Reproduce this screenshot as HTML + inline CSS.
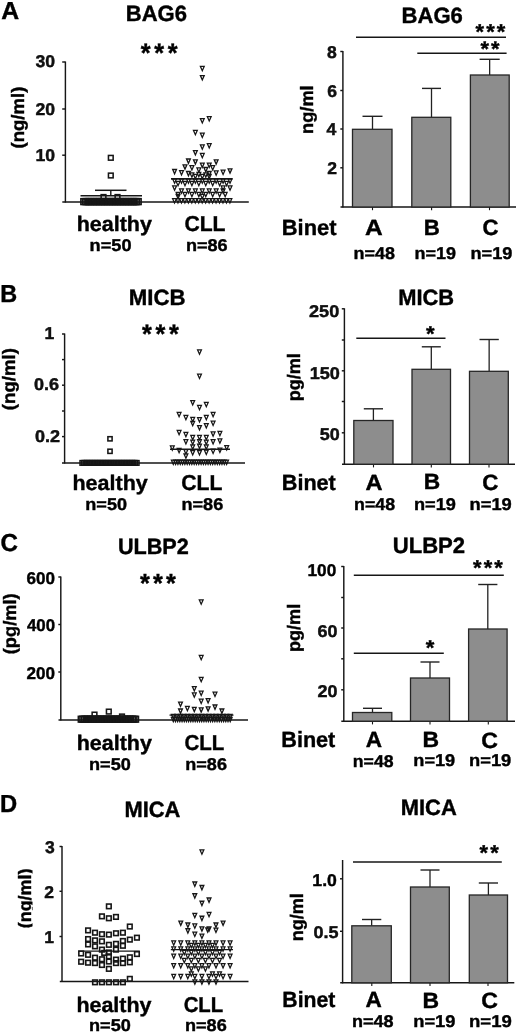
<!DOCTYPE html>
<html><head><meta charset="utf-8"><title>Figure</title>
<style>html,body{margin:0;padding:0;background:#fff}svg{display:block}text{font-family:"Liberation Sans",Arial,Helvetica,sans-serif;font-weight:bold;text-rendering:geometricPrecision;stroke:#000;stroke-width:0.4px}</style>
</head><body>
<svg width="520" height="1033" viewBox="0 0 520 1033">
<rect width="520" height="1033" fill="#fff"/>
<text transform="translate(1.28 18.85) scale(1.0092 1)" font-size="24.55" fill="#000">A</text>
<text transform="translate(125.77 21.25) scale(0.9941 1)" font-size="22.15" fill="#000">BAG6</text>
<text transform="translate(140.67 62.36) scale(0.9442 1)" font-size="26.76" letter-spacing="3.89" fill="#000">***</text>
<text transform="translate(24.25 148.53) rotate(-90) scale(1.0350 1)" font-size="17.95" fill="#000">(ng/ml)</text>
<line x1="65.40" y1="61.50" x2="65.40" y2="202.60" stroke="#161616" stroke-width="1.45"/>
<line x1="62.30" y1="202.00" x2="248.80" y2="202.00" stroke="#161616" stroke-width="1.45"/>
<line x1="62.20" y1="62.00" x2="65.40" y2="62.00" stroke="#161616" stroke-width="1.45"/>
<text transform="translate(35.52 67.35) scale(1.0347 1)" font-size="17.05" fill="#111">30</text>
<line x1="62.20" y1="109.00" x2="65.40" y2="109.00" stroke="#161616" stroke-width="1.45"/>
<text transform="translate(35.53 115.45) scale(1.0345 1)" font-size="17.05" fill="#111">20</text>
<line x1="62.20" y1="155.20" x2="65.40" y2="155.20" stroke="#161616" stroke-width="1.45"/>
<text transform="translate(35.54 161.25) scale(1.0340 1)" font-size="17.05" fill="#111">10</text>
<text transform="translate(76.70 230.85) scale(1.0209 1)" font-size="21.05" fill="#000">healthy</text>
<text transform="translate(184.46 231.05) scale(0.9800 1)" font-size="21.55" fill="#000">CLL</text>
<text transform="translate(89.62 250.85) scale(1.0664 1)" font-size="17.05" fill="#000">n=50</text>
<text transform="translate(185.92 250.85) scale(1.0613 1)" font-size="17.05" fill="#000">n=86</text>
<rect x="80.90" y="198.70" width="5.8" height="5.8" fill="none" stroke="#161616" stroke-width="1.6"/>
<rect x="82.50" y="198.70" width="5.8" height="5.8" fill="none" stroke="#161616" stroke-width="1.6"/>
<rect x="84.10" y="198.70" width="5.8" height="5.8" fill="none" stroke="#161616" stroke-width="1.6"/>
<rect x="85.70" y="198.70" width="5.8" height="5.8" fill="none" stroke="#161616" stroke-width="1.6"/>
<rect x="87.30" y="198.70" width="5.8" height="5.8" fill="none" stroke="#161616" stroke-width="1.6"/>
<rect x="88.90" y="198.70" width="5.8" height="5.8" fill="none" stroke="#161616" stroke-width="1.6"/>
<rect x="90.50" y="198.70" width="5.8" height="5.8" fill="none" stroke="#161616" stroke-width="1.6"/>
<rect x="92.10" y="198.70" width="5.8" height="5.8" fill="none" stroke="#161616" stroke-width="1.6"/>
<rect x="93.70" y="198.70" width="5.8" height="5.8" fill="none" stroke="#161616" stroke-width="1.6"/>
<rect x="95.30" y="198.70" width="5.8" height="5.8" fill="none" stroke="#161616" stroke-width="1.6"/>
<rect x="96.90" y="198.70" width="5.8" height="5.8" fill="none" stroke="#161616" stroke-width="1.6"/>
<rect x="98.50" y="198.70" width="5.8" height="5.8" fill="none" stroke="#161616" stroke-width="1.6"/>
<rect x="100.10" y="198.70" width="5.8" height="5.8" fill="none" stroke="#161616" stroke-width="1.6"/>
<rect x="101.70" y="198.70" width="5.8" height="5.8" fill="none" stroke="#161616" stroke-width="1.6"/>
<rect x="103.30" y="198.70" width="5.8" height="5.8" fill="none" stroke="#161616" stroke-width="1.6"/>
<rect x="104.90" y="198.70" width="5.8" height="5.8" fill="none" stroke="#161616" stroke-width="1.6"/>
<rect x="106.50" y="198.70" width="5.8" height="5.8" fill="none" stroke="#161616" stroke-width="1.6"/>
<rect x="108.10" y="198.70" width="5.8" height="5.8" fill="none" stroke="#161616" stroke-width="1.6"/>
<rect x="109.70" y="198.70" width="5.8" height="5.8" fill="none" stroke="#161616" stroke-width="1.6"/>
<rect x="111.30" y="198.70" width="5.8" height="5.8" fill="none" stroke="#161616" stroke-width="1.6"/>
<rect x="112.90" y="198.70" width="5.8" height="5.8" fill="none" stroke="#161616" stroke-width="1.6"/>
<rect x="114.50" y="198.70" width="5.8" height="5.8" fill="none" stroke="#161616" stroke-width="1.6"/>
<rect x="116.10" y="198.70" width="5.8" height="5.8" fill="none" stroke="#161616" stroke-width="1.6"/>
<rect x="117.70" y="198.70" width="5.8" height="5.8" fill="none" stroke="#161616" stroke-width="1.6"/>
<rect x="119.30" y="198.70" width="5.8" height="5.8" fill="none" stroke="#161616" stroke-width="1.6"/>
<rect x="120.90" y="198.70" width="5.8" height="5.8" fill="none" stroke="#161616" stroke-width="1.6"/>
<rect x="122.50" y="198.70" width="5.8" height="5.8" fill="none" stroke="#161616" stroke-width="1.6"/>
<rect x="124.10" y="198.70" width="5.8" height="5.8" fill="none" stroke="#161616" stroke-width="1.6"/>
<rect x="125.70" y="198.70" width="5.8" height="5.8" fill="none" stroke="#161616" stroke-width="1.6"/>
<rect x="127.30" y="198.70" width="5.8" height="5.8" fill="none" stroke="#161616" stroke-width="1.6"/>
<rect x="128.90" y="198.70" width="5.8" height="5.8" fill="none" stroke="#161616" stroke-width="1.6"/>
<rect x="130.50" y="198.70" width="5.8" height="5.8" fill="none" stroke="#161616" stroke-width="1.6"/>
<rect x="132.10" y="198.70" width="5.8" height="5.8" fill="none" stroke="#161616" stroke-width="1.6"/>
<rect x="133.70" y="198.70" width="5.8" height="5.8" fill="none" stroke="#161616" stroke-width="1.6"/>
<rect x="135.30" y="198.70" width="5.8" height="5.8" fill="none" stroke="#161616" stroke-width="1.6"/>
<rect x="108.45" y="155.45" width="4.7" height="4.7" fill="none" stroke="#161616" stroke-width="1.55"/>
<rect x="108.45" y="173.15" width="4.7" height="4.7" fill="none" stroke="#161616" stroke-width="1.55"/>
<rect x="101.15" y="194.65" width="4.7" height="4.7" fill="none" stroke="#161616" stroke-width="1.55"/>
<rect x="115.15" y="194.65" width="4.7" height="4.7" fill="none" stroke="#161616" stroke-width="1.55"/>
<line x1="95.00" y1="190.30" x2="126.50" y2="190.30" stroke="#161616" stroke-width="1.5"/>
<line x1="110.80" y1="190.30" x2="110.80" y2="196.00" stroke="#161616" stroke-width="1.4"/>
<line x1="80.50" y1="195.70" x2="142.00" y2="195.70" stroke="#161616" stroke-width="1.5"/>
<path d="M200.40 66.40H204.20L202.30 70.70Z" fill="none" stroke="#161616" stroke-width="1.3"/>
<path d="M200.40 75.60H204.20L202.30 79.90Z" fill="none" stroke="#161616" stroke-width="1.3"/>
<path d="M200.40 118.65H204.20L202.30 122.95Z" fill="none" stroke="#161616" stroke-width="1.3"/>
<path d="M207.33 116.65H211.13L209.23 120.95Z" fill="none" stroke="#161616" stroke-width="1.3"/>
<path d="M193.47 130.40H197.27L195.37 134.70Z" fill="none" stroke="#161616" stroke-width="1.3"/>
<path d="M200.40 133.15H204.20L202.30 137.45Z" fill="none" stroke="#161616" stroke-width="1.3"/>
<path d="M200.40 144.90H204.20L202.30 149.20Z" fill="none" stroke="#161616" stroke-width="1.3"/>
<path d="M207.33 143.65H211.13L209.23 147.95Z" fill="none" stroke="#161616" stroke-width="1.3"/>
<path d="M193.47 150.60H197.27L195.37 154.90Z" fill="none" stroke="#161616" stroke-width="1.3"/>
<path d="M200.40 153.40H204.20L202.30 157.70Z" fill="none" stroke="#161616" stroke-width="1.3"/>
<path d="M186.54 159.00H190.34L188.44 163.30Z" fill="none" stroke="#161616" stroke-width="1.3"/>
<path d="M193.47 159.80H197.27L195.37 164.10Z" fill="none" stroke="#161616" stroke-width="1.3"/>
<path d="M214.26 159.80H218.06L216.16 164.10Z" fill="none" stroke="#161616" stroke-width="1.3"/>
<path d="M200.40 163.10H204.20L202.30 167.40Z" fill="none" stroke="#161616" stroke-width="1.3"/>
<path d="M207.33 163.10H211.13L209.23 167.40Z" fill="none" stroke="#161616" stroke-width="1.3"/>
<path d="M183.08 164.80H186.88L184.98 169.10Z" fill="none" stroke="#161616" stroke-width="1.3"/>
<path d="M190.00 165.70H193.81L191.91 170.00Z" fill="none" stroke="#161616" stroke-width="1.3"/>
<path d="M210.80 165.70H214.60L212.70 170.00Z" fill="none" stroke="#161616" stroke-width="1.3"/>
<path d="M196.94 167.90H200.74L198.84 172.20Z" fill="none" stroke="#161616" stroke-width="1.3"/>
<path d="M203.87 167.50H207.67L205.77 171.80Z" fill="none" stroke="#161616" stroke-width="1.3"/>
<path d="M172.68 169.50H176.48L174.58 173.80Z" fill="none" stroke="#161616" stroke-width="1.3"/>
<path d="M179.61 170.60H183.41L181.51 174.90Z" fill="none" stroke="#161616" stroke-width="1.3"/>
<path d="M228.12 168.80H231.92L230.02 173.10Z" fill="none" stroke="#161616" stroke-width="1.3"/>
<path d="M221.19 170.20H224.99L223.09 174.50Z" fill="none" stroke="#161616" stroke-width="1.3"/>
<path d="M186.54 171.50H190.34L188.44 175.80Z" fill="none" stroke="#161616" stroke-width="1.3"/>
<path d="M214.26 170.90H218.06L216.16 175.20Z" fill="none" stroke="#161616" stroke-width="1.3"/>
<path d="M207.33 171.50H211.13L209.23 175.80Z" fill="none" stroke="#161616" stroke-width="1.3"/>
<path d="M190.00 172.90H193.81L191.91 177.20Z" fill="none" stroke="#161616" stroke-width="1.3"/>
<path d="M196.94 172.40H200.74L198.84 176.70Z" fill="none" stroke="#161616" stroke-width="1.3"/>
<path d="M203.87 172.90H207.67L205.77 177.20Z" fill="none" stroke="#161616" stroke-width="1.3"/>
<path d="M193.47 174.40H197.27L195.37 178.70Z" fill="none" stroke="#161616" stroke-width="1.3"/>
<path d="M200.40 174.40H204.20L202.30 178.70Z" fill="none" stroke="#161616" stroke-width="1.3"/>
<path d="M207.33 174.40H211.13L209.23 178.70Z" fill="none" stroke="#161616" stroke-width="1.3"/>
<path d="M172.68 178.90H176.48L174.58 183.20Z" fill="none" stroke="#161616" stroke-width="1.3"/>
<path d="M179.61 178.90H183.41L181.51 183.20Z" fill="none" stroke="#161616" stroke-width="1.3"/>
<path d="M186.54 178.90H190.34L188.44 183.20Z" fill="none" stroke="#161616" stroke-width="1.3"/>
<path d="M193.47 178.90H197.27L195.37 183.20Z" fill="none" stroke="#161616" stroke-width="1.3"/>
<path d="M200.40 178.90H204.20L202.30 183.20Z" fill="none" stroke="#161616" stroke-width="1.3"/>
<path d="M207.33 178.90H211.13L209.23 183.20Z" fill="none" stroke="#161616" stroke-width="1.3"/>
<path d="M214.26 178.90H218.06L216.16 183.20Z" fill="none" stroke="#161616" stroke-width="1.3"/>
<path d="M221.19 178.90H224.99L223.09 183.20Z" fill="none" stroke="#161616" stroke-width="1.3"/>
<path d="M228.12 178.90H231.92L230.02 183.20Z" fill="none" stroke="#161616" stroke-width="1.3"/>
<path d="M176.15 181.40H179.95L178.05 185.70Z" fill="none" stroke="#161616" stroke-width="1.3"/>
<path d="M183.08 181.40H186.88L184.98 185.70Z" fill="none" stroke="#161616" stroke-width="1.3"/>
<path d="M190.00 181.40H193.81L191.91 185.70Z" fill="none" stroke="#161616" stroke-width="1.3"/>
<path d="M196.94 181.40H200.74L198.84 185.70Z" fill="none" stroke="#161616" stroke-width="1.3"/>
<path d="M203.87 181.40H207.67L205.77 185.70Z" fill="none" stroke="#161616" stroke-width="1.3"/>
<path d="M210.80 181.40H214.60L212.70 185.70Z" fill="none" stroke="#161616" stroke-width="1.3"/>
<path d="M217.72 181.40H221.53L219.62 185.70Z" fill="none" stroke="#161616" stroke-width="1.3"/>
<path d="M224.66 181.40H228.46L226.56 185.70Z" fill="none" stroke="#161616" stroke-width="1.3"/>
<path d="M172.68 185.90H176.48L174.58 190.20Z" fill="none" stroke="#161616" stroke-width="1.3"/>
<path d="M228.12 185.90H231.92L230.02 190.20Z" fill="none" stroke="#161616" stroke-width="1.3"/>
<path d="M221.19 185.90H224.99L223.09 190.20Z" fill="none" stroke="#161616" stroke-width="1.3"/>
<path d="M179.61 188.90H183.41L181.51 193.20Z" fill="none" stroke="#161616" stroke-width="1.3"/>
<path d="M186.54 188.90H190.34L188.44 193.20Z" fill="none" stroke="#161616" stroke-width="1.3"/>
<path d="M193.47 188.90H197.27L195.37 193.20Z" fill="none" stroke="#161616" stroke-width="1.3"/>
<path d="M200.40 188.90H204.20L202.30 193.20Z" fill="none" stroke="#161616" stroke-width="1.3"/>
<path d="M207.33 188.90H211.13L209.23 193.20Z" fill="none" stroke="#161616" stroke-width="1.3"/>
<path d="M214.26 188.90H218.06L216.16 193.20Z" fill="none" stroke="#161616" stroke-width="1.3"/>
<path d="M221.19 188.90H224.99L223.09 193.20Z" fill="none" stroke="#161616" stroke-width="1.3"/>
<path d="M176.15 192.40H179.95L178.05 196.70Z" fill="none" stroke="#161616" stroke-width="1.3"/>
<path d="M183.08 192.40H186.88L184.98 196.70Z" fill="none" stroke="#161616" stroke-width="1.3"/>
<path d="M190.00 192.40H193.81L191.91 196.70Z" fill="none" stroke="#161616" stroke-width="1.3"/>
<path d="M196.94 192.40H200.74L198.84 196.70Z" fill="none" stroke="#161616" stroke-width="1.3"/>
<path d="M203.87 192.40H207.67L205.77 196.70Z" fill="none" stroke="#161616" stroke-width="1.3"/>
<path d="M210.80 192.40H214.60L212.70 196.70Z" fill="none" stroke="#161616" stroke-width="1.3"/>
<path d="M217.72 192.40H221.53L219.62 196.70Z" fill="none" stroke="#161616" stroke-width="1.3"/>
<path d="M223.27 192.40H227.07L225.17 196.70Z" fill="none" stroke="#161616" stroke-width="1.3"/>
<path d="M176.15 194.40H179.95L178.05 198.70Z" fill="none" stroke="#161616" stroke-width="1.3"/>
<path d="M200.40 194.40H204.20L202.30 198.70Z" fill="none" stroke="#161616" stroke-width="1.3"/>
<path d="M172.60 198.70H176.40L174.50 203.00Z" fill="none" stroke="#161616" stroke-width="1.3"/>
<path d="M176.06 198.70H179.86L177.96 203.00Z" fill="none" stroke="#161616" stroke-width="1.3"/>
<path d="M179.53 198.70H183.33L181.43 203.00Z" fill="none" stroke="#161616" stroke-width="1.3"/>
<path d="M182.99 198.70H186.79L184.89 203.00Z" fill="none" stroke="#161616" stroke-width="1.3"/>
<path d="M186.45 198.70H190.25L188.35 203.00Z" fill="none" stroke="#161616" stroke-width="1.3"/>
<path d="M189.91 198.70H193.71L191.81 203.00Z" fill="none" stroke="#161616" stroke-width="1.3"/>
<path d="M193.38 198.70H197.18L195.28 203.00Z" fill="none" stroke="#161616" stroke-width="1.3"/>
<path d="M196.84 198.70H200.64L198.74 203.00Z" fill="none" stroke="#161616" stroke-width="1.3"/>
<path d="M200.30 198.70H204.10L202.20 203.00Z" fill="none" stroke="#161616" stroke-width="1.3"/>
<path d="M203.76 198.70H207.56L205.66 203.00Z" fill="none" stroke="#161616" stroke-width="1.3"/>
<path d="M207.22 198.70H211.03L209.12 203.00Z" fill="none" stroke="#161616" stroke-width="1.3"/>
<path d="M210.69 198.70H214.49L212.59 203.00Z" fill="none" stroke="#161616" stroke-width="1.3"/>
<path d="M214.15 198.70H217.95L216.05 203.00Z" fill="none" stroke="#161616" stroke-width="1.3"/>
<path d="M217.61 198.70H221.41L219.51 203.00Z" fill="none" stroke="#161616" stroke-width="1.3"/>
<path d="M221.08 198.70H224.88L222.98 203.00Z" fill="none" stroke="#161616" stroke-width="1.3"/>
<path d="M224.54 198.70H228.34L226.44 203.00Z" fill="none" stroke="#161616" stroke-width="1.3"/>
<path d="M228.00 198.70H231.80L229.90 203.00Z" fill="none" stroke="#161616" stroke-width="1.3"/>
<line x1="171.00" y1="178.80" x2="232.50" y2="178.80" stroke="#161616" stroke-width="1.8"/>
<text transform="translate(401.57 22.55) scale(0.9958 1)" font-size="22.15" fill="#000">BAG6</text>
<text transform="translate(475.59 39.43) scale(1.0230 1)" font-size="21.35" letter-spacing="2.06" fill="#000">***</text>
<line x1="356.00" y1="37.20" x2="506.00" y2="37.20" stroke="#161616" stroke-width="1.4"/>
<text transform="translate(480.39 55.75) scale(1.0361 1)" font-size="21.08" letter-spacing="2.13" fill="#000">**</text>
<line x1="417.30" y1="53.20" x2="506.60" y2="53.20" stroke="#161616" stroke-width="1.4"/>
<line x1="342.90" y1="51.00" x2="342.90" y2="207.60" stroke="#161616" stroke-width="1.45"/>
<line x1="340.50" y1="207.00" x2="516.00" y2="207.00" stroke="#161616" stroke-width="1.45"/>
<line x1="340.30" y1="51.50" x2="342.90" y2="51.50" stroke="#161616" stroke-width="1.45"/>
<text transform="translate(327.08 58.35) scale(1.0303 1)" font-size="17.05" fill="#111">8</text>
<line x1="340.30" y1="90.50" x2="342.90" y2="90.50" stroke="#161616" stroke-width="1.45"/>
<text transform="translate(327.17 96.55) scale(1.0293 1)" font-size="17.05" fill="#111">6</text>
<line x1="340.30" y1="129.00" x2="342.90" y2="129.00" stroke="#161616" stroke-width="1.45"/>
<text transform="translate(326.60 134.85) scale(1.0339 1)" font-size="17.05" fill="#111">4</text>
<line x1="340.30" y1="167.80" x2="342.90" y2="167.80" stroke="#161616" stroke-width="1.45"/>
<text transform="translate(327.27 173.65) scale(1.0288 1)" font-size="17.05" fill="#111">2</text>
<line x1="372.50" y1="207.00" x2="372.50" y2="210.20" stroke="#161616" stroke-width="1.1"/>
<line x1="431.60" y1="207.00" x2="431.60" y2="210.20" stroke="#161616" stroke-width="1.1"/>
<line x1="489.50" y1="207.00" x2="489.50" y2="210.20" stroke="#161616" stroke-width="1.1"/>
<text transform="translate(312.95 133.99) rotate(-90) scale(1.0175 1)" font-size="17.95" fill="#000">ng/ml</text>
<line x1="372.50" y1="116.30" x2="372.50" y2="129.30" stroke="#222" stroke-width="1.3"/>
<line x1="362.50" y1="116.30" x2="382.50" y2="116.30" stroke="#222" stroke-width="1.4"/>
<rect x="352.50" y="129.30" width="39.50" height="77.70" fill="#8d8d8d" stroke="#262626" stroke-width="1.3"/>
<line x1="431.50" y1="88.40" x2="431.50" y2="117.30" stroke="#222" stroke-width="1.3"/>
<line x1="422.00" y1="88.40" x2="441.00" y2="88.40" stroke="#222" stroke-width="1.4"/>
<rect x="411.80" y="117.30" width="39.00" height="89.70" fill="#8d8d8d" stroke="#262626" stroke-width="1.3"/>
<line x1="489.65" y1="59.30" x2="489.65" y2="75.00" stroke="#222" stroke-width="1.3"/>
<line x1="479.60" y1="59.30" x2="499.70" y2="59.30" stroke="#222" stroke-width="1.4"/>
<rect x="470.40" y="75.00" width="38.80" height="132.00" fill="#8d8d8d" stroke="#262626" stroke-width="1.3"/>
<text transform="translate(281.78 235.15) scale(0.9914 1)" font-size="22.05" fill="#000">Binet</text>
<text transform="translate(365.09 235.15) scale(1.1101 1)" font-size="22.05" fill="#000">A</text>
<text transform="translate(423.75 235.15) scale(1.0111 1)" font-size="22.05" fill="#000">B</text>
<text transform="translate(482.61 235.35) scale(1.0040 1)" font-size="22.05" fill="#000">C</text>
<text transform="translate(353.54 259.05) scale(1.0509 1)" font-size="17.05" fill="#000">n=48</text>
<text transform="translate(414.53 259.05) scale(1.0533 1)" font-size="17.05" fill="#000">n=19</text>
<text transform="translate(470.52 259.05) scale(1.0666 1)" font-size="17.05" fill="#000">n=19</text>
<text transform="translate(0.18 301.65) scale(0.9549 1)" font-size="24.55" fill="#000">B</text>
<text transform="translate(128.76 304.85) scale(1.0026 1)" font-size="22.15" fill="#000">MICB</text>
<text transform="translate(142.07 343.46) scale(0.9442 1)" font-size="26.76" letter-spacing="3.89" fill="#000">***</text>
<text transform="translate(14.95 410.13) rotate(-90) scale(1.0367 1)" font-size="17.95" fill="#000">(ng/ml)</text>
<line x1="64.60" y1="333.50" x2="64.60" y2="463.60" stroke="#161616" stroke-width="1.45"/>
<line x1="62.00" y1="463.00" x2="245.00" y2="463.00" stroke="#161616" stroke-width="1.45"/>
<line x1="62.00" y1="334.00" x2="64.60" y2="334.00" stroke="#161616" stroke-width="1.45"/>
<line x1="62.00" y1="359.60" x2="64.60" y2="359.60" stroke="#161616" stroke-width="1.45"/>
<line x1="62.00" y1="385.20" x2="64.60" y2="385.20" stroke="#161616" stroke-width="1.45"/>
<line x1="62.00" y1="411.00" x2="64.60" y2="411.00" stroke="#161616" stroke-width="1.45"/>
<line x1="62.00" y1="436.60" x2="64.60" y2="436.60" stroke="#161616" stroke-width="1.45"/>
<text transform="translate(44.41 339.45) scale(1.0278 1)" font-size="17.05" fill="#111">1</text>
<text transform="translate(34.01 390.05) scale(1.0599 1)" font-size="17.05" fill="#111">0.6</text>
<text transform="translate(34.91 442.25) scale(1.0598 1)" font-size="17.05" fill="#111">0.2</text>
<text transform="translate(72.50 490.35) scale(1.0209 1)" font-size="21.05" fill="#000">healthy</text>
<text transform="translate(181.36 490.35) scale(0.9800 1)" font-size="21.55" fill="#000">CLL</text>
<text transform="translate(85.32 510.35) scale(1.0611 1)" font-size="17.05" fill="#000">n=50</text>
<text transform="translate(181.52 510.35) scale(1.0613 1)" font-size="17.05" fill="#000">n=86</text>
<rect x="80.00" y="460.60" width="4.6" height="4.6" fill="none" stroke="#161616" stroke-width="1.5"/>
<rect x="81.60" y="460.60" width="4.6" height="4.6" fill="none" stroke="#161616" stroke-width="1.5"/>
<rect x="83.20" y="460.60" width="4.6" height="4.6" fill="none" stroke="#161616" stroke-width="1.5"/>
<rect x="84.80" y="460.60" width="4.6" height="4.6" fill="none" stroke="#161616" stroke-width="1.5"/>
<rect x="86.40" y="460.60" width="4.6" height="4.6" fill="none" stroke="#161616" stroke-width="1.5"/>
<rect x="88.00" y="460.60" width="4.6" height="4.6" fill="none" stroke="#161616" stroke-width="1.5"/>
<rect x="89.60" y="460.60" width="4.6" height="4.6" fill="none" stroke="#161616" stroke-width="1.5"/>
<rect x="91.20" y="460.60" width="4.6" height="4.6" fill="none" stroke="#161616" stroke-width="1.5"/>
<rect x="92.80" y="460.60" width="4.6" height="4.6" fill="none" stroke="#161616" stroke-width="1.5"/>
<rect x="94.40" y="460.60" width="4.6" height="4.6" fill="none" stroke="#161616" stroke-width="1.5"/>
<rect x="96.00" y="460.60" width="4.6" height="4.6" fill="none" stroke="#161616" stroke-width="1.5"/>
<rect x="97.60" y="460.60" width="4.6" height="4.6" fill="none" stroke="#161616" stroke-width="1.5"/>
<rect x="99.20" y="460.60" width="4.6" height="4.6" fill="none" stroke="#161616" stroke-width="1.5"/>
<rect x="100.80" y="460.60" width="4.6" height="4.6" fill="none" stroke="#161616" stroke-width="1.5"/>
<rect x="102.40" y="460.60" width="4.6" height="4.6" fill="none" stroke="#161616" stroke-width="1.5"/>
<rect x="104.00" y="460.60" width="4.6" height="4.6" fill="none" stroke="#161616" stroke-width="1.5"/>
<rect x="105.60" y="460.60" width="4.6" height="4.6" fill="none" stroke="#161616" stroke-width="1.5"/>
<rect x="107.20" y="460.60" width="4.6" height="4.6" fill="none" stroke="#161616" stroke-width="1.5"/>
<rect x="108.80" y="460.60" width="4.6" height="4.6" fill="none" stroke="#161616" stroke-width="1.5"/>
<rect x="110.40" y="460.60" width="4.6" height="4.6" fill="none" stroke="#161616" stroke-width="1.5"/>
<rect x="112.00" y="460.60" width="4.6" height="4.6" fill="none" stroke="#161616" stroke-width="1.5"/>
<rect x="113.60" y="460.60" width="4.6" height="4.6" fill="none" stroke="#161616" stroke-width="1.5"/>
<rect x="115.20" y="460.60" width="4.6" height="4.6" fill="none" stroke="#161616" stroke-width="1.5"/>
<rect x="116.80" y="460.60" width="4.6" height="4.6" fill="none" stroke="#161616" stroke-width="1.5"/>
<rect x="118.40" y="460.60" width="4.6" height="4.6" fill="none" stroke="#161616" stroke-width="1.5"/>
<rect x="120.00" y="460.60" width="4.6" height="4.6" fill="none" stroke="#161616" stroke-width="1.5"/>
<rect x="121.60" y="460.60" width="4.6" height="4.6" fill="none" stroke="#161616" stroke-width="1.5"/>
<rect x="123.20" y="460.60" width="4.6" height="4.6" fill="none" stroke="#161616" stroke-width="1.5"/>
<rect x="124.80" y="460.60" width="4.6" height="4.6" fill="none" stroke="#161616" stroke-width="1.5"/>
<rect x="126.40" y="460.60" width="4.6" height="4.6" fill="none" stroke="#161616" stroke-width="1.5"/>
<rect x="128.00" y="460.60" width="4.6" height="4.6" fill="none" stroke="#161616" stroke-width="1.5"/>
<rect x="129.60" y="460.60" width="4.6" height="4.6" fill="none" stroke="#161616" stroke-width="1.5"/>
<rect x="131.20" y="460.60" width="4.6" height="4.6" fill="none" stroke="#161616" stroke-width="1.5"/>
<rect x="132.80" y="460.60" width="4.6" height="4.6" fill="none" stroke="#161616" stroke-width="1.5"/>
<rect x="134.40" y="460.60" width="4.6" height="4.6" fill="none" stroke="#161616" stroke-width="1.5"/>
<rect x="107.90" y="436.70" width="4.2" height="4.2" fill="none" stroke="#161616" stroke-width="1.55"/>
<rect x="107.90" y="449.20" width="4.2" height="4.2" fill="none" stroke="#161616" stroke-width="1.55"/>
<path d="M197.60 349.90H201.40L199.50 354.20Z" fill="none" stroke="#161616" stroke-width="1.3"/>
<path d="M197.60 374.20H201.40L199.50 378.50Z" fill="none" stroke="#161616" stroke-width="1.3"/>
<path d="M190.80 400.70H194.60L192.70 405.00Z" fill="none" stroke="#161616" stroke-width="1.3"/>
<path d="M197.60 405.40H201.40L199.50 409.70Z" fill="none" stroke="#161616" stroke-width="1.3"/>
<path d="M204.40 402.40H208.20L206.30 406.70Z" fill="none" stroke="#161616" stroke-width="1.3"/>
<path d="M177.20 412.40H181.00L179.10 416.70Z" fill="none" stroke="#161616" stroke-width="1.3"/>
<path d="M211.20 412.40H215.00L213.10 416.70Z" fill="none" stroke="#161616" stroke-width="1.3"/>
<path d="M184.00 415.40H187.80L185.90 419.70Z" fill="none" stroke="#161616" stroke-width="1.3"/>
<path d="M204.40 415.40H208.20L206.30 419.70Z" fill="none" stroke="#161616" stroke-width="1.3"/>
<path d="M190.80 417.40H194.60L192.70 421.70Z" fill="none" stroke="#161616" stroke-width="1.3"/>
<path d="M197.60 417.70H201.40L199.50 422.00Z" fill="none" stroke="#161616" stroke-width="1.3"/>
<path d="M190.80 421.40H194.60L192.70 425.70Z" fill="none" stroke="#161616" stroke-width="1.3"/>
<path d="M211.20 421.20H215.00L213.10 425.50Z" fill="none" stroke="#161616" stroke-width="1.3"/>
<path d="M204.40 423.70H208.20L206.30 428.00Z" fill="none" stroke="#161616" stroke-width="1.3"/>
<path d="M197.60 425.60H201.40L199.50 429.90Z" fill="none" stroke="#161616" stroke-width="1.3"/>
<path d="M177.20 430.40H181.00L179.10 434.70Z" fill="none" stroke="#161616" stroke-width="1.3"/>
<path d="M184.00 432.40H187.80L185.90 436.70Z" fill="none" stroke="#161616" stroke-width="1.3"/>
<path d="M211.20 431.90H215.00L213.10 436.20Z" fill="none" stroke="#161616" stroke-width="1.3"/>
<path d="M218.00 431.40H221.80L219.90 435.70Z" fill="none" stroke="#161616" stroke-width="1.3"/>
<path d="M190.80 435.40H194.60L192.70 439.70Z" fill="none" stroke="#161616" stroke-width="1.3"/>
<path d="M197.60 435.40H201.40L199.50 439.70Z" fill="none" stroke="#161616" stroke-width="1.3"/>
<path d="M204.40 435.40H208.20L206.30 439.70Z" fill="none" stroke="#161616" stroke-width="1.3"/>
<path d="M184.00 439.70H187.80L185.90 444.00Z" fill="none" stroke="#161616" stroke-width="1.3"/>
<path d="M190.80 440.20H194.60L192.70 444.50Z" fill="none" stroke="#161616" stroke-width="1.3"/>
<path d="M197.60 439.70H201.40L199.50 444.00Z" fill="none" stroke="#161616" stroke-width="1.3"/>
<path d="M204.40 440.20H208.20L206.30 444.50Z" fill="none" stroke="#161616" stroke-width="1.3"/>
<path d="M211.20 439.70H215.00L213.10 444.00Z" fill="none" stroke="#161616" stroke-width="1.3"/>
<path d="M218.00 438.90H221.80L219.90 443.20Z" fill="none" stroke="#161616" stroke-width="1.3"/>
<path d="M170.40 445.90H174.20L172.30 450.20Z" fill="none" stroke="#161616" stroke-width="1.3"/>
<path d="M224.80 445.70H228.60L226.70 450.00Z" fill="none" stroke="#161616" stroke-width="1.3"/>
<path d="M177.20 448.40H181.00L179.10 452.70Z" fill="none" stroke="#161616" stroke-width="1.3"/>
<path d="M184.00 449.70H187.80L185.90 454.00Z" fill="none" stroke="#161616" stroke-width="1.3"/>
<path d="M190.80 450.70H194.60L192.70 455.00Z" fill="none" stroke="#161616" stroke-width="1.3"/>
<path d="M197.60 450.70H201.40L199.50 455.00Z" fill="none" stroke="#161616" stroke-width="1.3"/>
<path d="M204.40 450.20H208.20L206.30 454.50Z" fill="none" stroke="#161616" stroke-width="1.3"/>
<path d="M211.20 449.20H215.00L213.10 453.50Z" fill="none" stroke="#161616" stroke-width="1.3"/>
<path d="M218.00 448.20H221.80L219.90 452.50Z" fill="none" stroke="#161616" stroke-width="1.3"/>
<path d="M190.80 444.90H194.60L192.70 449.20Z" fill="none" stroke="#161616" stroke-width="1.3"/>
<path d="M197.60 444.20H201.40L199.50 448.50Z" fill="none" stroke="#161616" stroke-width="1.3"/>
<path d="M204.40 444.90H208.20L206.30 449.20Z" fill="none" stroke="#161616" stroke-width="1.3"/>
<path d="M184.00 453.90H187.80L185.90 458.20Z" fill="none" stroke="#161616" stroke-width="1.3"/>
<path d="M171.40 460.10H175.20L173.30 464.40Z" fill="none" stroke="#161616" stroke-width="1.3"/>
<path d="M173.72 460.10H177.52L175.62 464.40Z" fill="none" stroke="#161616" stroke-width="1.3"/>
<path d="M176.03 460.10H179.83L177.93 464.40Z" fill="none" stroke="#161616" stroke-width="1.3"/>
<path d="M178.35 460.10H182.15L180.25 464.40Z" fill="none" stroke="#161616" stroke-width="1.3"/>
<path d="M180.67 460.10H184.47L182.57 464.40Z" fill="none" stroke="#161616" stroke-width="1.3"/>
<path d="M182.99 460.10H186.79L184.89 464.40Z" fill="none" stroke="#161616" stroke-width="1.3"/>
<path d="M185.30 460.10H189.10L187.20 464.40Z" fill="none" stroke="#161616" stroke-width="1.3"/>
<path d="M187.62 460.10H191.42L189.52 464.40Z" fill="none" stroke="#161616" stroke-width="1.3"/>
<path d="M189.94 460.10H193.74L191.84 464.40Z" fill="none" stroke="#161616" stroke-width="1.3"/>
<path d="M192.26 460.10H196.06L194.16 464.40Z" fill="none" stroke="#161616" stroke-width="1.3"/>
<path d="M194.57 460.10H198.37L196.47 464.40Z" fill="none" stroke="#161616" stroke-width="1.3"/>
<path d="M196.89 460.10H200.69L198.79 464.40Z" fill="none" stroke="#161616" stroke-width="1.3"/>
<path d="M199.21 460.10H203.01L201.11 464.40Z" fill="none" stroke="#161616" stroke-width="1.3"/>
<path d="M201.53 460.10H205.33L203.43 464.40Z" fill="none" stroke="#161616" stroke-width="1.3"/>
<path d="M203.84 460.10H207.64L205.74 464.40Z" fill="none" stroke="#161616" stroke-width="1.3"/>
<path d="M206.16 460.10H209.96L208.06 464.40Z" fill="none" stroke="#161616" stroke-width="1.3"/>
<path d="M208.48 460.10H212.28L210.38 464.40Z" fill="none" stroke="#161616" stroke-width="1.3"/>
<path d="M210.80 460.10H214.60L212.70 464.40Z" fill="none" stroke="#161616" stroke-width="1.3"/>
<path d="M213.11 460.10H216.91L215.01 464.40Z" fill="none" stroke="#161616" stroke-width="1.3"/>
<path d="M215.43 460.10H219.23L217.33 464.40Z" fill="none" stroke="#161616" stroke-width="1.3"/>
<path d="M217.75 460.10H221.55L219.65 464.40Z" fill="none" stroke="#161616" stroke-width="1.3"/>
<path d="M220.07 460.10H223.87L221.97 464.40Z" fill="none" stroke="#161616" stroke-width="1.3"/>
<path d="M222.38 460.10H226.18L224.28 464.40Z" fill="none" stroke="#161616" stroke-width="1.3"/>
<path d="M224.70 460.10H228.50L226.60 464.40Z" fill="none" stroke="#161616" stroke-width="1.3"/>
<line x1="170.00" y1="449.30" x2="230.00" y2="449.30" stroke="#161616" stroke-width="1.4"/>
<text transform="translate(398.28 304.65) scale(0.9879 1)" font-size="22.15" fill="#000">MICB</text>
<text transform="translate(426.09 340.52) scale(1.0224 1)" font-size="21.62" letter-spacing="1.96" fill="#000">*</text>
<line x1="356.30" y1="338.30" x2="445.50" y2="338.30" stroke="#161616" stroke-width="1.45"/>
<line x1="344.40" y1="308.30" x2="344.40" y2="464.80" stroke="#161616" stroke-width="1.45"/>
<line x1="342.00" y1="464.20" x2="515.00" y2="464.20" stroke="#161616" stroke-width="1.45"/>
<line x1="341.80" y1="308.80" x2="344.40" y2="308.80" stroke="#161616" stroke-width="1.45"/>
<line x1="341.80" y1="340.00" x2="344.40" y2="340.00" stroke="#161616" stroke-width="1.45"/>
<line x1="341.80" y1="370.80" x2="344.40" y2="370.80" stroke="#161616" stroke-width="1.45"/>
<line x1="341.80" y1="401.50" x2="344.40" y2="401.50" stroke="#161616" stroke-width="1.45"/>
<line x1="341.80" y1="432.80" x2="344.40" y2="432.80" stroke="#161616" stroke-width="1.45"/>
<text transform="translate(309.05 316.85) scale(1.0630 1)" font-size="17.05" fill="#111">250</text>
<text transform="translate(309.66 378.55) scale(1.0627 1)" font-size="17.05" fill="#111">150</text>
<text transform="translate(319.85 440.45) scale(1.0552 1)" font-size="17.05" fill="#111">50</text>
<line x1="373.50" y1="464.20" x2="373.50" y2="467.40" stroke="#161616" stroke-width="1.1"/>
<line x1="431.30" y1="464.20" x2="431.30" y2="467.40" stroke="#161616" stroke-width="1.1"/>
<line x1="489.00" y1="464.20" x2="489.00" y2="467.40" stroke="#161616" stroke-width="1.1"/>
<text transform="translate(300.35 401.27) rotate(-90) scale(1.0009 1)" font-size="18.05" fill="#000">pg/ml</text>
<line x1="373.40" y1="408.80" x2="373.40" y2="420.50" stroke="#222" stroke-width="1.3"/>
<line x1="363.80" y1="408.80" x2="383.00" y2="408.80" stroke="#222" stroke-width="1.4"/>
<rect x="353.80" y="420.50" width="39.20" height="43.70" fill="#8d8d8d" stroke="#262626" stroke-width="1.3"/>
<line x1="431.30" y1="346.80" x2="431.30" y2="369.30" stroke="#222" stroke-width="1.3"/>
<line x1="421.80" y1="346.80" x2="440.80" y2="346.80" stroke="#222" stroke-width="1.4"/>
<rect x="412.00" y="369.30" width="38.50" height="94.90" fill="#8d8d8d" stroke="#262626" stroke-width="1.3"/>
<line x1="489.15" y1="339.50" x2="489.15" y2="371.30" stroke="#222" stroke-width="1.3"/>
<line x1="479.50" y1="339.50" x2="498.80" y2="339.50" stroke="#222" stroke-width="1.4"/>
<rect x="469.50" y="371.30" width="38.80" height="92.90" fill="#8d8d8d" stroke="#262626" stroke-width="1.3"/>
<text transform="translate(281.80 489.65) scale(0.9801 1)" font-size="22.05" fill="#000">Binet</text>
<text transform="translate(365.61 489.65) scale(1.0695 1)" font-size="22.05" fill="#000">A</text>
<text transform="translate(423.72 489.35) scale(1.0334 1)" font-size="22.05" fill="#000">B</text>
<text transform="translate(482.31 489.55) scale(1.0109 1)" font-size="22.05" fill="#000">C</text>
<text transform="translate(354.04 509.85) scale(1.0430 1)" font-size="17.05" fill="#000">n=48</text>
<text transform="translate(414.02 509.85) scale(1.0666 1)" font-size="17.05" fill="#000">n=19</text>
<text transform="translate(469.51 509.85) scale(1.0746 1)" font-size="17.05" fill="#000">n=19</text>
<text transform="translate(0.54 551.15) scale(0.9826 1)" font-size="24.55" fill="#000">C</text>
<text transform="translate(117.90 554.35) scale(0.9769 1)" font-size="22.15" fill="#000">ULBP2</text>
<text transform="translate(140.07 591.69) scale(0.9636 1)" font-size="26.22" letter-spacing="3.29" fill="#000">***</text>
<text transform="translate(16.45 654.21) rotate(-90) scale(1.0178 1)" font-size="17.95" fill="#000">(pg/ml)</text>
<line x1="60.80" y1="576.50" x2="60.80" y2="720.60" stroke="#161616" stroke-width="1.45"/>
<line x1="58.50" y1="720.00" x2="248.00" y2="720.00" stroke="#161616" stroke-width="1.45"/>
<line x1="58.30" y1="577.00" x2="60.80" y2="577.00" stroke="#161616" stroke-width="1.45"/>
<text transform="translate(26.60 583.75) scale(1.0033 1)" font-size="17.05" fill="#000">600</text>
<line x1="58.30" y1="624.50" x2="60.80" y2="624.50" stroke="#161616" stroke-width="1.45"/>
<text transform="translate(26.95 631.25) scale(0.9909 1)" font-size="17.05" fill="#000">400</text>
<line x1="58.30" y1="672.00" x2="60.80" y2="672.00" stroke="#161616" stroke-width="1.45"/>
<text transform="translate(26.60 678.75) scale(1.0033 1)" font-size="17.05" fill="#000">200</text>
<text transform="translate(76.70 750.35) scale(1.0209 1)" font-size="21.05" fill="#000">healthy</text>
<text transform="translate(184.38 750.35) scale(0.9503 1)" font-size="21.55" fill="#000">CLL</text>
<text transform="translate(89.02 770.35) scale(1.0637 1)" font-size="17.05" fill="#000">n=50</text>
<text transform="translate(185.33 770.35) scale(1.0586 1)" font-size="17.05" fill="#000">n=86</text>
<rect x="78.35" y="716.35" width="5.7" height="5.7" fill="none" stroke="#161616" stroke-width="1.6"/>
<rect x="79.95" y="716.35" width="5.7" height="5.7" fill="none" stroke="#161616" stroke-width="1.6"/>
<rect x="81.55" y="716.35" width="5.7" height="5.7" fill="none" stroke="#161616" stroke-width="1.6"/>
<rect x="83.15" y="716.35" width="5.7" height="5.7" fill="none" stroke="#161616" stroke-width="1.6"/>
<rect x="84.75" y="716.35" width="5.7" height="5.7" fill="none" stroke="#161616" stroke-width="1.6"/>
<rect x="86.35" y="716.35" width="5.7" height="5.7" fill="none" stroke="#161616" stroke-width="1.6"/>
<rect x="87.95" y="716.35" width="5.7" height="5.7" fill="none" stroke="#161616" stroke-width="1.6"/>
<rect x="89.55" y="716.35" width="5.7" height="5.7" fill="none" stroke="#161616" stroke-width="1.6"/>
<rect x="91.15" y="716.35" width="5.7" height="5.7" fill="none" stroke="#161616" stroke-width="1.6"/>
<rect x="92.75" y="716.35" width="5.7" height="5.7" fill="none" stroke="#161616" stroke-width="1.6"/>
<rect x="94.35" y="716.35" width="5.7" height="5.7" fill="none" stroke="#161616" stroke-width="1.6"/>
<rect x="95.95" y="716.35" width="5.7" height="5.7" fill="none" stroke="#161616" stroke-width="1.6"/>
<rect x="97.55" y="716.35" width="5.7" height="5.7" fill="none" stroke="#161616" stroke-width="1.6"/>
<rect x="99.15" y="716.35" width="5.7" height="5.7" fill="none" stroke="#161616" stroke-width="1.6"/>
<rect x="100.75" y="716.35" width="5.7" height="5.7" fill="none" stroke="#161616" stroke-width="1.6"/>
<rect x="102.35" y="716.35" width="5.7" height="5.7" fill="none" stroke="#161616" stroke-width="1.6"/>
<rect x="103.95" y="716.35" width="5.7" height="5.7" fill="none" stroke="#161616" stroke-width="1.6"/>
<rect x="105.55" y="716.35" width="5.7" height="5.7" fill="none" stroke="#161616" stroke-width="1.6"/>
<rect x="107.15" y="716.35" width="5.7" height="5.7" fill="none" stroke="#161616" stroke-width="1.6"/>
<rect x="108.75" y="716.35" width="5.7" height="5.7" fill="none" stroke="#161616" stroke-width="1.6"/>
<rect x="110.35" y="716.35" width="5.7" height="5.7" fill="none" stroke="#161616" stroke-width="1.6"/>
<rect x="111.95" y="716.35" width="5.7" height="5.7" fill="none" stroke="#161616" stroke-width="1.6"/>
<rect x="113.55" y="716.35" width="5.7" height="5.7" fill="none" stroke="#161616" stroke-width="1.6"/>
<rect x="115.15" y="716.35" width="5.7" height="5.7" fill="none" stroke="#161616" stroke-width="1.6"/>
<rect x="116.75" y="716.35" width="5.7" height="5.7" fill="none" stroke="#161616" stroke-width="1.6"/>
<rect x="118.35" y="716.35" width="5.7" height="5.7" fill="none" stroke="#161616" stroke-width="1.6"/>
<rect x="119.95" y="716.35" width="5.7" height="5.7" fill="none" stroke="#161616" stroke-width="1.6"/>
<rect x="121.55" y="716.35" width="5.7" height="5.7" fill="none" stroke="#161616" stroke-width="1.6"/>
<rect x="123.15" y="716.35" width="5.7" height="5.7" fill="none" stroke="#161616" stroke-width="1.6"/>
<rect x="124.75" y="716.35" width="5.7" height="5.7" fill="none" stroke="#161616" stroke-width="1.6"/>
<rect x="126.35" y="716.35" width="5.7" height="5.7" fill="none" stroke="#161616" stroke-width="1.6"/>
<rect x="127.95" y="716.35" width="5.7" height="5.7" fill="none" stroke="#161616" stroke-width="1.6"/>
<rect x="129.55" y="716.35" width="5.7" height="5.7" fill="none" stroke="#161616" stroke-width="1.6"/>
<rect x="131.15" y="716.35" width="5.7" height="5.7" fill="none" stroke="#161616" stroke-width="1.6"/>
<rect x="132.75" y="716.35" width="5.7" height="5.7" fill="none" stroke="#161616" stroke-width="1.6"/>
<rect x="92.15" y="712.25" width="4.7" height="4.7" fill="none" stroke="#161616" stroke-width="1.55"/>
<rect x="106.45" y="709.25" width="4.7" height="4.7" fill="none" stroke="#161616" stroke-width="1.55"/>
<rect x="119.65" y="714.15" width="4.7" height="4.7" fill="none" stroke="#161616" stroke-width="1.55"/>
<path d="M199.30 599.90H203.10L201.20 604.20Z" fill="none" stroke="#161616" stroke-width="1.3"/>
<path d="M199.30 655.40H203.10L201.20 659.70Z" fill="none" stroke="#161616" stroke-width="1.3"/>
<path d="M199.30 677.40H203.10L201.20 681.70Z" fill="none" stroke="#161616" stroke-width="1.3"/>
<path d="M192.40 686.70H196.20L194.30 691.00Z" fill="none" stroke="#161616" stroke-width="1.3"/>
<path d="M192.40 692.90H196.20L194.30 697.20Z" fill="none" stroke="#161616" stroke-width="1.3"/>
<path d="M199.30 691.20H203.10L201.20 695.50Z" fill="none" stroke="#161616" stroke-width="1.3"/>
<path d="M213.10 692.20H216.90L215.00 696.50Z" fill="none" stroke="#161616" stroke-width="1.3"/>
<path d="M199.30 699.20H203.10L201.20 703.50Z" fill="none" stroke="#161616" stroke-width="1.3"/>
<path d="M206.20 698.60H210.00L208.10 702.90Z" fill="none" stroke="#161616" stroke-width="1.3"/>
<path d="M178.60 702.10H182.40L180.50 706.40Z" fill="none" stroke="#161616" stroke-width="1.3"/>
<path d="M213.10 705.00H216.90L215.00 709.30Z" fill="none" stroke="#161616" stroke-width="1.3"/>
<path d="M185.50 706.40H189.30L187.40 710.70Z" fill="none" stroke="#161616" stroke-width="1.3"/>
<path d="M192.40 707.30H196.20L194.30 711.60Z" fill="none" stroke="#161616" stroke-width="1.3"/>
<path d="M199.30 707.80H203.10L201.20 712.10Z" fill="none" stroke="#161616" stroke-width="1.3"/>
<path d="M206.20 706.80H210.00L208.10 711.10Z" fill="none" stroke="#161616" stroke-width="1.3"/>
<path d="M178.60 709.00H182.40L180.50 713.30Z" fill="none" stroke="#161616" stroke-width="1.3"/>
<path d="M220.00 709.00H223.80L221.90 713.30Z" fill="none" stroke="#161616" stroke-width="1.3"/>
<path d="M171.40 714.30H175.20L173.30 718.60Z" fill="none" stroke="#161616" stroke-width="1.3"/>
<path d="M174.96 714.30H178.76L176.86 718.60Z" fill="none" stroke="#161616" stroke-width="1.3"/>
<path d="M178.51 714.30H182.31L180.41 718.60Z" fill="none" stroke="#161616" stroke-width="1.3"/>
<path d="M182.07 714.30H185.87L183.97 718.60Z" fill="none" stroke="#161616" stroke-width="1.3"/>
<path d="M185.62 714.30H189.43L187.53 718.60Z" fill="none" stroke="#161616" stroke-width="1.3"/>
<path d="M189.18 714.30H192.98L191.08 718.60Z" fill="none" stroke="#161616" stroke-width="1.3"/>
<path d="M192.74 714.30H196.54L194.64 718.60Z" fill="none" stroke="#161616" stroke-width="1.3"/>
<path d="M196.29 714.30H200.09L198.19 718.60Z" fill="none" stroke="#161616" stroke-width="1.3"/>
<path d="M199.85 714.30H203.65L201.75 718.60Z" fill="none" stroke="#161616" stroke-width="1.3"/>
<path d="M203.41 714.30H207.21L205.31 718.60Z" fill="none" stroke="#161616" stroke-width="1.3"/>
<path d="M206.96 714.30H210.76L208.86 718.60Z" fill="none" stroke="#161616" stroke-width="1.3"/>
<path d="M210.52 714.30H214.32L212.42 718.60Z" fill="none" stroke="#161616" stroke-width="1.3"/>
<path d="M214.07 714.30H217.88L215.97 718.60Z" fill="none" stroke="#161616" stroke-width="1.3"/>
<path d="M217.63 714.30H221.43L219.53 718.60Z" fill="none" stroke="#161616" stroke-width="1.3"/>
<path d="M221.19 714.30H224.99L223.09 718.60Z" fill="none" stroke="#161616" stroke-width="1.3"/>
<path d="M224.74 714.30H228.54L226.64 718.60Z" fill="none" stroke="#161616" stroke-width="1.3"/>
<path d="M228.30 714.30H232.10L230.20 718.60Z" fill="none" stroke="#161616" stroke-width="1.3"/>
<path d="M171.40 717.40H175.20L173.30 721.70Z" fill="none" stroke="#161616" stroke-width="1.3"/>
<path d="M173.59 717.40H177.39L175.49 721.70Z" fill="none" stroke="#161616" stroke-width="1.3"/>
<path d="M175.78 717.40H179.58L177.68 721.70Z" fill="none" stroke="#161616" stroke-width="1.3"/>
<path d="M177.97 717.40H181.77L179.87 721.70Z" fill="none" stroke="#161616" stroke-width="1.3"/>
<path d="M180.15 717.40H183.95L182.05 721.70Z" fill="none" stroke="#161616" stroke-width="1.3"/>
<path d="M182.34 717.40H186.14L184.24 721.70Z" fill="none" stroke="#161616" stroke-width="1.3"/>
<path d="M184.53 717.40H188.33L186.43 721.70Z" fill="none" stroke="#161616" stroke-width="1.3"/>
<path d="M186.72 717.40H190.52L188.62 721.70Z" fill="none" stroke="#161616" stroke-width="1.3"/>
<path d="M188.91 717.40H192.71L190.81 721.70Z" fill="none" stroke="#161616" stroke-width="1.3"/>
<path d="M191.10 717.40H194.90L193.00 721.70Z" fill="none" stroke="#161616" stroke-width="1.3"/>
<path d="M193.28 717.40H197.08L195.18 721.70Z" fill="none" stroke="#161616" stroke-width="1.3"/>
<path d="M195.47 717.40H199.27L197.37 721.70Z" fill="none" stroke="#161616" stroke-width="1.3"/>
<path d="M197.66 717.40H201.46L199.56 721.70Z" fill="none" stroke="#161616" stroke-width="1.3"/>
<path d="M199.85 717.40H203.65L201.75 721.70Z" fill="none" stroke="#161616" stroke-width="1.3"/>
<path d="M202.04 717.40H205.84L203.94 721.70Z" fill="none" stroke="#161616" stroke-width="1.3"/>
<path d="M204.23 717.40H208.03L206.13 721.70Z" fill="none" stroke="#161616" stroke-width="1.3"/>
<path d="M206.42 717.40H210.22L208.32 721.70Z" fill="none" stroke="#161616" stroke-width="1.3"/>
<path d="M208.60 717.40H212.40L210.50 721.70Z" fill="none" stroke="#161616" stroke-width="1.3"/>
<path d="M210.79 717.40H214.59L212.69 721.70Z" fill="none" stroke="#161616" stroke-width="1.3"/>
<path d="M212.98 717.40H216.78L214.88 721.70Z" fill="none" stroke="#161616" stroke-width="1.3"/>
<path d="M215.17 717.40H218.97L217.07 721.70Z" fill="none" stroke="#161616" stroke-width="1.3"/>
<path d="M217.36 717.40H221.16L219.26 721.70Z" fill="none" stroke="#161616" stroke-width="1.3"/>
<path d="M219.55 717.40H223.35L221.45 721.70Z" fill="none" stroke="#161616" stroke-width="1.3"/>
<path d="M221.73 717.40H225.53L223.63 721.70Z" fill="none" stroke="#161616" stroke-width="1.3"/>
<path d="M223.92 717.40H227.72L225.82 721.70Z" fill="none" stroke="#161616" stroke-width="1.3"/>
<path d="M226.11 717.40H229.91L228.01 721.70Z" fill="none" stroke="#161616" stroke-width="1.3"/>
<path d="M228.30 717.40H232.10L230.20 721.70Z" fill="none" stroke="#161616" stroke-width="1.3"/>
<line x1="169.50" y1="715.10" x2="233.50" y2="715.10" stroke="#161616" stroke-width="1.4"/>
<text transform="translate(392.67 553.35) scale(0.9982 1)" font-size="22.15" fill="#000">ULBP2</text>
<text transform="translate(473.09 574.53) scale(1.0230 1)" font-size="21.35" letter-spacing="2.06" fill="#000">***</text>
<line x1="353.80" y1="575.30" x2="503.80" y2="575.30" stroke="#161616" stroke-width="1.45"/>
<text transform="translate(425.69 654.92) scale(1.0224 1)" font-size="21.62" letter-spacing="1.96" fill="#000">*</text>
<line x1="353.80" y1="653.30" x2="443.80" y2="653.30" stroke="#161616" stroke-width="1.45"/>
<line x1="343.80" y1="566.00" x2="343.80" y2="721.80" stroke="#161616" stroke-width="1.45"/>
<line x1="341.30" y1="721.20" x2="515.00" y2="721.20" stroke="#161616" stroke-width="1.45"/>
<line x1="341.20" y1="566.50" x2="343.80" y2="566.50" stroke="#161616" stroke-width="1.45"/>
<line x1="341.20" y1="597.50" x2="343.80" y2="597.50" stroke="#161616" stroke-width="1.45"/>
<line x1="341.20" y1="628.00" x2="343.80" y2="628.00" stroke="#161616" stroke-width="1.45"/>
<line x1="341.20" y1="658.80" x2="343.80" y2="658.80" stroke="#161616" stroke-width="1.45"/>
<line x1="341.20" y1="689.80" x2="343.80" y2="689.80" stroke="#161616" stroke-width="1.45"/>
<text transform="translate(307.46 575.85) scale(1.0119 1)" font-size="17.05" fill="#000">100</text>
<text transform="translate(317.55 636.65) scale(1.0550 1)" font-size="17.05" fill="#111">60</text>
<text transform="translate(317.55 696.65) scale(1.0550 1)" font-size="17.05" fill="#111">20</text>
<line x1="372.50" y1="721.20" x2="372.50" y2="724.40" stroke="#161616" stroke-width="1.1"/>
<line x1="430.00" y1="721.20" x2="430.00" y2="724.40" stroke="#161616" stroke-width="1.1"/>
<line x1="488.30" y1="721.20" x2="488.30" y2="724.40" stroke="#161616" stroke-width="1.1"/>
<text transform="translate(300.35 651.97) rotate(-90) scale(1.0009 1)" font-size="18.05" fill="#000">pg/ml</text>
<line x1="372.50" y1="708.30" x2="372.50" y2="712.50" stroke="#222" stroke-width="1.3"/>
<line x1="363.00" y1="708.30" x2="382.00" y2="708.30" stroke="#222" stroke-width="1.4"/>
<rect x="352.50" y="712.50" width="39.30" height="8.70" fill="#8d8d8d" stroke="#262626" stroke-width="1.3"/>
<line x1="430.00" y1="662.00" x2="430.00" y2="678.00" stroke="#222" stroke-width="1.3"/>
<line x1="420.50" y1="662.00" x2="439.50" y2="662.00" stroke="#222" stroke-width="1.4"/>
<rect x="410.50" y="678.00" width="39.00" height="43.20" fill="#8d8d8d" stroke="#262626" stroke-width="1.3"/>
<line x1="487.80" y1="584.50" x2="487.80" y2="629.00" stroke="#222" stroke-width="1.3"/>
<line x1="478.20" y1="584.50" x2="497.40" y2="584.50" stroke="#222" stroke-width="1.4"/>
<rect x="468.60" y="629.00" width="38.50" height="92.20" fill="#8d8d8d" stroke="#262626" stroke-width="1.3"/>
<text transform="translate(281.30 747.35) scale(0.9801 1)" font-size="22.05" fill="#000">Binet</text>
<text transform="translate(365.64 747.35) scale(1.0221 1)" font-size="22.05" fill="#000">A</text>
<text transform="translate(422.51 747.35) scale(1.0409 1)" font-size="22.05" fill="#000">B</text>
<text transform="translate(481.28 747.55) scale(1.0455 1)" font-size="22.05" fill="#000">C</text>
<text transform="translate(352.85 766.65) scale(1.0350 1)" font-size="17.05" fill="#000">n=48</text>
<text transform="translate(413.32 766.35) scale(1.0640 1)" font-size="17.05" fill="#000">n=19</text>
<text transform="translate(469.01 766.35) scale(1.0746 1)" font-size="17.05" fill="#000">n=19</text>
<text transform="translate(-0.04 812.05) scale(0.9670 1)" font-size="24.55" fill="#000">D</text>
<text transform="translate(124.48 817.45) scale(0.9890 1)" font-size="22.15" fill="#000">MICA</text>
<clipPath id="cl"><rect x="0" y="860" width="32.5" height="80"/></clipPath>
<g clip-path="url(#cl)"><text transform="translate(31.05 928.19) rotate(-90) scale(0.9971 1)" font-size="17.95" fill="#000">(ng/ml)</text></g>
<line x1="62.00" y1="846.00" x2="62.00" y2="982.10" stroke="#161616" stroke-width="1.45"/>
<line x1="59.80" y1="981.50" x2="248.50" y2="981.50" stroke="#161616" stroke-width="1.45"/>
<line x1="59.50" y1="846.50" x2="62.00" y2="846.50" stroke="#161616" stroke-width="1.45"/>
<text transform="translate(44.97 852.85) scale(1.0303 1)" font-size="17.05" fill="#111">3</text>
<line x1="59.50" y1="891.30" x2="62.00" y2="891.30" stroke="#161616" stroke-width="1.45"/>
<text transform="translate(44.27 897.65) scale(1.0288 1)" font-size="17.05" fill="#111">2</text>
<line x1="59.50" y1="936.50" x2="62.00" y2="936.50" stroke="#161616" stroke-width="1.45"/>
<text transform="translate(44.21 942.85) scale(1.0278 1)" font-size="17.05" fill="#111">1</text>
<text transform="translate(76.40 1011.65) scale(1.0195 1)" font-size="21.05" fill="#000">healthy</text>
<text transform="translate(183.69 1011.65) scale(0.9429 1)" font-size="21.55" fill="#000">CLL</text>
<text transform="translate(89.02 1031.15) scale(1.0637 1)" font-size="17.05" fill="#000">n=50</text>
<text transform="translate(185.02 1031.15) scale(1.0613 1)" font-size="17.05" fill="#000">n=86</text>
<rect x="106.55" y="904.05" width="4.6" height="4.6" fill="none" stroke="#161616" stroke-width="1.6"/>
<rect x="99.62" y="914.05" width="4.6" height="4.6" fill="none" stroke="#161616" stroke-width="1.6"/>
<rect x="106.55" y="915.97" width="4.6" height="4.6" fill="none" stroke="#161616" stroke-width="1.6"/>
<rect x="113.66" y="914.62" width="4.6" height="4.6" fill="none" stroke="#161616" stroke-width="1.6"/>
<rect x="127.51" y="924.24" width="4.6" height="4.6" fill="none" stroke="#161616" stroke-width="1.6"/>
<rect x="85.78" y="928.08" width="4.6" height="4.6" fill="none" stroke="#161616" stroke-width="1.6"/>
<rect x="92.70" y="930.39" width="4.6" height="4.6" fill="none" stroke="#161616" stroke-width="1.6"/>
<rect x="99.62" y="931.93" width="4.6" height="4.6" fill="none" stroke="#161616" stroke-width="1.6"/>
<rect x="106.55" y="932.32" width="4.6" height="4.6" fill="none" stroke="#161616" stroke-width="1.6"/>
<rect x="113.66" y="930.97" width="4.6" height="4.6" fill="none" stroke="#161616" stroke-width="1.6"/>
<rect x="120.58" y="930.39" width="4.6" height="4.6" fill="none" stroke="#161616" stroke-width="1.6"/>
<rect x="134.62" y="935.39" width="4.6" height="4.6" fill="none" stroke="#161616" stroke-width="1.6"/>
<rect x="85.78" y="936.74" width="4.6" height="4.6" fill="none" stroke="#161616" stroke-width="1.6"/>
<rect x="92.70" y="938.08" width="4.6" height="4.6" fill="none" stroke="#161616" stroke-width="1.6"/>
<rect x="99.62" y="939.05" width="4.6" height="4.6" fill="none" stroke="#161616" stroke-width="1.6"/>
<rect x="120.58" y="938.66" width="4.6" height="4.6" fill="none" stroke="#161616" stroke-width="1.6"/>
<rect x="127.51" y="937.32" width="4.6" height="4.6" fill="none" stroke="#161616" stroke-width="1.6"/>
<rect x="85.78" y="942.12" width="4.6" height="4.6" fill="none" stroke="#161616" stroke-width="1.6"/>
<rect x="92.70" y="944.05" width="4.6" height="4.6" fill="none" stroke="#161616" stroke-width="1.6"/>
<rect x="106.55" y="942.51" width="4.6" height="4.6" fill="none" stroke="#161616" stroke-width="1.6"/>
<rect x="113.66" y="941.55" width="4.6" height="4.6" fill="none" stroke="#161616" stroke-width="1.6"/>
<rect x="120.58" y="943.47" width="4.6" height="4.6" fill="none" stroke="#161616" stroke-width="1.6"/>
<rect x="99.62" y="947.32" width="4.6" height="4.6" fill="none" stroke="#161616" stroke-width="1.6"/>
<rect x="113.66" y="947.32" width="4.6" height="4.6" fill="none" stroke="#161616" stroke-width="1.6"/>
<rect x="78.85" y="951.16" width="4.6" height="4.6" fill="none" stroke="#161616" stroke-width="1.6"/>
<rect x="85.78" y="952.51" width="4.6" height="4.6" fill="none" stroke="#161616" stroke-width="1.6"/>
<rect x="106.55" y="950.20" width="4.6" height="4.6" fill="none" stroke="#161616" stroke-width="1.6"/>
<rect x="101.93" y="950.58" width="4.6" height="4.6" fill="none" stroke="#161616" stroke-width="1.6"/>
<rect x="134.62" y="951.74" width="4.6" height="4.6" fill="none" stroke="#161616" stroke-width="1.6"/>
<rect x="92.70" y="955.39" width="4.6" height="4.6" fill="none" stroke="#161616" stroke-width="1.6"/>
<rect x="99.62" y="956.93" width="4.6" height="4.6" fill="none" stroke="#161616" stroke-width="1.6"/>
<rect x="106.55" y="954.05" width="4.6" height="4.6" fill="none" stroke="#161616" stroke-width="1.6"/>
<rect x="113.66" y="957.32" width="4.6" height="4.6" fill="none" stroke="#161616" stroke-width="1.6"/>
<rect x="120.58" y="956.35" width="4.6" height="4.6" fill="none" stroke="#161616" stroke-width="1.6"/>
<rect x="127.51" y="955.01" width="4.6" height="4.6" fill="none" stroke="#161616" stroke-width="1.6"/>
<rect x="78.85" y="959.43" width="4.6" height="4.6" fill="none" stroke="#161616" stroke-width="1.6"/>
<rect x="85.78" y="960.39" width="4.6" height="4.6" fill="none" stroke="#161616" stroke-width="1.6"/>
<rect x="92.70" y="960.78" width="4.6" height="4.6" fill="none" stroke="#161616" stroke-width="1.6"/>
<rect x="106.55" y="959.24" width="4.6" height="4.6" fill="none" stroke="#161616" stroke-width="1.6"/>
<rect x="113.66" y="960.78" width="4.6" height="4.6" fill="none" stroke="#161616" stroke-width="1.6"/>
<rect x="120.58" y="960.78" width="4.6" height="4.6" fill="none" stroke="#161616" stroke-width="1.6"/>
<rect x="127.51" y="960.01" width="4.6" height="4.6" fill="none" stroke="#161616" stroke-width="1.6"/>
<rect x="99.62" y="962.70" width="4.6" height="4.6" fill="none" stroke="#161616" stroke-width="1.6"/>
<rect x="106.55" y="966.55" width="4.6" height="4.6" fill="none" stroke="#161616" stroke-width="1.6"/>
<rect x="92.70" y="980.01" width="4.6" height="4.6" fill="none" stroke="#161616" stroke-width="1.6"/>
<rect x="99.62" y="980.01" width="4.6" height="4.6" fill="none" stroke="#161616" stroke-width="1.6"/>
<rect x="106.55" y="980.01" width="4.6" height="4.6" fill="none" stroke="#161616" stroke-width="1.6"/>
<rect x="113.66" y="980.01" width="4.6" height="4.6" fill="none" stroke="#161616" stroke-width="1.6"/>
<rect x="120.58" y="980.01" width="4.6" height="4.6" fill="none" stroke="#161616" stroke-width="1.6"/>
<rect x="127.51" y="976.55" width="4.6" height="4.6" fill="none" stroke="#161616" stroke-width="1.6"/>
<line x1="78.30" y1="951.20" x2="139.80" y2="951.20" stroke="#161616" stroke-width="1.3"/>
<path d="M200.02 849.90H203.82L201.92 854.20Z" fill="none" stroke="#161616" stroke-width="1.3"/>
<path d="M192.91 882.02H196.71L194.81 886.32Z" fill="none" stroke="#161616" stroke-width="1.3"/>
<path d="M200.02 885.48H203.82L201.92 889.78Z" fill="none" stroke="#161616" stroke-width="1.3"/>
<path d="M192.91 893.75H196.71L194.81 898.05Z" fill="none" stroke="#161616" stroke-width="1.3"/>
<path d="M207.14 897.98H210.94L209.04 902.28Z" fill="none" stroke="#161616" stroke-width="1.3"/>
<path d="M200.02 901.25H203.82L201.92 905.55Z" fill="none" stroke="#161616" stroke-width="1.3"/>
<path d="M192.91 913.36H196.71L194.81 917.66Z" fill="none" stroke="#161616" stroke-width="1.3"/>
<path d="M207.14 912.40H210.94L209.04 916.70Z" fill="none" stroke="#161616" stroke-width="1.3"/>
<path d="M200.02 916.25H203.82L201.92 920.55Z" fill="none" stroke="#161616" stroke-width="1.3"/>
<path d="M178.87 921.05H182.67L180.77 925.35Z" fill="none" stroke="#161616" stroke-width="1.3"/>
<path d="M221.18 921.05H224.98L223.08 925.35Z" fill="none" stroke="#161616" stroke-width="1.3"/>
<path d="M185.98 922.98H189.78L187.88 927.28Z" fill="none" stroke="#161616" stroke-width="1.3"/>
<path d="M192.91 923.94H196.71L194.81 928.24Z" fill="none" stroke="#161616" stroke-width="1.3"/>
<path d="M214.06 922.98H217.86L215.96 927.28Z" fill="none" stroke="#161616" stroke-width="1.3"/>
<path d="M200.02 926.82H203.82L201.92 931.12Z" fill="none" stroke="#161616" stroke-width="1.3"/>
<path d="M207.14 926.82H210.94L209.04 931.12Z" fill="none" stroke="#161616" stroke-width="1.3"/>
<path d="M205.79 927.78H209.59L207.69 932.08Z" fill="none" stroke="#161616" stroke-width="1.3"/>
<path d="M185.98 928.75H189.78L187.88 933.05Z" fill="none" stroke="#161616" stroke-width="1.3"/>
<path d="M214.06 928.17H217.86L215.96 932.47Z" fill="none" stroke="#161616" stroke-width="1.3"/>
<path d="M192.91 932.21H196.71L194.81 936.51Z" fill="none" stroke="#161616" stroke-width="1.3"/>
<path d="M200.02 934.13H203.82L201.92 938.43Z" fill="none" stroke="#161616" stroke-width="1.3"/>
<path d="M171.80 940.90H175.60L173.70 945.20Z" fill="none" stroke="#161616" stroke-width="1.3"/>
<path d="M178.85 940.90H182.65L180.75 945.20Z" fill="none" stroke="#161616" stroke-width="1.3"/>
<path d="M185.90 940.90H189.70L187.80 945.20Z" fill="none" stroke="#161616" stroke-width="1.3"/>
<path d="M192.95 940.90H196.75L194.85 945.20Z" fill="none" stroke="#161616" stroke-width="1.3"/>
<path d="M200.00 940.90H203.80L201.90 945.20Z" fill="none" stroke="#161616" stroke-width="1.3"/>
<path d="M207.05 940.90H210.85L208.95 945.20Z" fill="none" stroke="#161616" stroke-width="1.3"/>
<path d="M214.10 940.90H217.90L216.00 945.20Z" fill="none" stroke="#161616" stroke-width="1.3"/>
<path d="M221.15 940.90H224.95L223.05 945.20Z" fill="none" stroke="#161616" stroke-width="1.3"/>
<path d="M228.20 940.90H232.00L230.10 945.20Z" fill="none" stroke="#161616" stroke-width="1.3"/>
<path d="M189.43 943.40H193.23L191.33 947.70Z" fill="none" stroke="#161616" stroke-width="1.3"/>
<path d="M196.47 943.40H200.28L198.38 947.70Z" fill="none" stroke="#161616" stroke-width="1.3"/>
<path d="M203.53 943.40H207.33L205.43 947.70Z" fill="none" stroke="#161616" stroke-width="1.3"/>
<path d="M210.57 943.40H214.38L212.47 947.70Z" fill="none" stroke="#161616" stroke-width="1.3"/>
<path d="M171.80 946.90H175.60L173.70 951.20Z" fill="none" stroke="#161616" stroke-width="1.3"/>
<path d="M178.85 946.90H182.65L180.75 951.20Z" fill="none" stroke="#161616" stroke-width="1.3"/>
<path d="M185.90 946.90H189.70L187.80 951.20Z" fill="none" stroke="#161616" stroke-width="1.3"/>
<path d="M192.95 946.90H196.75L194.85 951.20Z" fill="none" stroke="#161616" stroke-width="1.3"/>
<path d="M200.00 946.90H203.80L201.90 951.20Z" fill="none" stroke="#161616" stroke-width="1.3"/>
<path d="M207.05 946.90H210.85L208.95 951.20Z" fill="none" stroke="#161616" stroke-width="1.3"/>
<path d="M214.10 946.90H217.90L216.00 951.20Z" fill="none" stroke="#161616" stroke-width="1.3"/>
<path d="M221.15 946.90H224.95L223.05 951.20Z" fill="none" stroke="#161616" stroke-width="1.3"/>
<path d="M228.20 946.90H232.00L230.10 951.20Z" fill="none" stroke="#161616" stroke-width="1.3"/>
<path d="M182.38 950.40H186.18L184.28 954.70Z" fill="none" stroke="#161616" stroke-width="1.3"/>
<path d="M189.43 950.40H193.23L191.33 954.70Z" fill="none" stroke="#161616" stroke-width="1.3"/>
<path d="M196.47 950.40H200.28L198.38 954.70Z" fill="none" stroke="#161616" stroke-width="1.3"/>
<path d="M203.53 950.40H207.33L205.43 954.70Z" fill="none" stroke="#161616" stroke-width="1.3"/>
<path d="M210.57 950.40H214.38L212.47 954.70Z" fill="none" stroke="#161616" stroke-width="1.3"/>
<path d="M217.62 950.40H221.43L219.53 954.70Z" fill="none" stroke="#161616" stroke-width="1.3"/>
<path d="M171.80 954.20H175.60L173.70 958.50Z" fill="none" stroke="#161616" stroke-width="1.3"/>
<path d="M178.85 954.20H182.65L180.75 958.50Z" fill="none" stroke="#161616" stroke-width="1.3"/>
<path d="M185.90 954.20H189.70L187.80 958.50Z" fill="none" stroke="#161616" stroke-width="1.3"/>
<path d="M192.95 954.20H196.75L194.85 958.50Z" fill="none" stroke="#161616" stroke-width="1.3"/>
<path d="M200.00 954.20H203.80L201.90 958.50Z" fill="none" stroke="#161616" stroke-width="1.3"/>
<path d="M207.05 954.20H210.85L208.95 958.50Z" fill="none" stroke="#161616" stroke-width="1.3"/>
<path d="M214.10 954.20H217.90L216.00 958.50Z" fill="none" stroke="#161616" stroke-width="1.3"/>
<path d="M221.15 954.20H224.95L223.05 958.50Z" fill="none" stroke="#161616" stroke-width="1.3"/>
<path d="M228.20 954.20H232.00L230.10 958.50Z" fill="none" stroke="#161616" stroke-width="1.3"/>
<path d="M182.38 958.40H186.18L184.28 962.70Z" fill="none" stroke="#161616" stroke-width="1.3"/>
<path d="M189.43 958.40H193.23L191.33 962.70Z" fill="none" stroke="#161616" stroke-width="1.3"/>
<path d="M196.47 958.40H200.28L198.38 962.70Z" fill="none" stroke="#161616" stroke-width="1.3"/>
<path d="M203.53 958.40H207.33L205.43 962.70Z" fill="none" stroke="#161616" stroke-width="1.3"/>
<path d="M210.57 958.40H214.38L212.47 962.70Z" fill="none" stroke="#161616" stroke-width="1.3"/>
<path d="M217.62 958.40H221.43L219.53 962.70Z" fill="none" stroke="#161616" stroke-width="1.3"/>
<path d="M171.80 963.70H175.60L173.70 968.00Z" fill="none" stroke="#161616" stroke-width="1.3"/>
<path d="M178.85 963.70H182.65L180.75 968.00Z" fill="none" stroke="#161616" stroke-width="1.3"/>
<path d="M185.90 963.70H189.70L187.80 968.00Z" fill="none" stroke="#161616" stroke-width="1.3"/>
<path d="M192.95 963.70H196.75L194.85 968.00Z" fill="none" stroke="#161616" stroke-width="1.3"/>
<path d="M200.00 963.70H203.80L201.90 968.00Z" fill="none" stroke="#161616" stroke-width="1.3"/>
<path d="M207.05 963.70H210.85L208.95 968.00Z" fill="none" stroke="#161616" stroke-width="1.3"/>
<path d="M214.10 963.70H217.90L216.00 968.00Z" fill="none" stroke="#161616" stroke-width="1.3"/>
<path d="M221.15 963.70H224.95L223.05 968.00Z" fill="none" stroke="#161616" stroke-width="1.3"/>
<path d="M228.20 963.70H232.00L230.10 968.00Z" fill="none" stroke="#161616" stroke-width="1.3"/>
<path d="M189.43 966.90H193.23L191.33 971.20Z" fill="none" stroke="#161616" stroke-width="1.3"/>
<path d="M196.47 966.90H200.28L198.38 971.20Z" fill="none" stroke="#161616" stroke-width="1.3"/>
<path d="M203.53 966.90H207.33L205.43 971.20Z" fill="none" stroke="#161616" stroke-width="1.3"/>
<path d="M171.80 974.40H175.60L173.70 978.70Z" fill="none" stroke="#161616" stroke-width="1.3"/>
<path d="M178.85 974.40H182.65L180.75 978.70Z" fill="none" stroke="#161616" stroke-width="1.3"/>
<path d="M185.90 974.40H189.70L187.80 978.70Z" fill="none" stroke="#161616" stroke-width="1.3"/>
<path d="M192.95 974.40H196.75L194.85 978.70Z" fill="none" stroke="#161616" stroke-width="1.3"/>
<path d="M200.00 974.40H203.80L201.90 978.70Z" fill="none" stroke="#161616" stroke-width="1.3"/>
<path d="M207.05 974.40H210.85L208.95 978.70Z" fill="none" stroke="#161616" stroke-width="1.3"/>
<path d="M214.10 974.40H217.90L216.00 978.70Z" fill="none" stroke="#161616" stroke-width="1.3"/>
<path d="M221.15 974.40H224.95L223.05 978.70Z" fill="none" stroke="#161616" stroke-width="1.3"/>
<path d="M228.20 974.40H232.00L230.10 978.70Z" fill="none" stroke="#161616" stroke-width="1.3"/>
<path d="M189.43 971.90H193.23L191.33 976.20Z" fill="none" stroke="#161616" stroke-width="1.3"/>
<path d="M210.57 971.90H214.38L212.47 976.20Z" fill="none" stroke="#161616" stroke-width="1.3"/>
<path d="M217.62 971.90H221.43L219.53 976.20Z" fill="none" stroke="#161616" stroke-width="1.3"/>
<path d="M192.95 979.90H196.75L194.85 984.20Z" fill="none" stroke="#161616" stroke-width="1.3"/>
<path d="M200.00 979.90H203.80L201.90 984.20Z" fill="none" stroke="#161616" stroke-width="1.3"/>
<path d="M207.05 979.90H210.85L208.95 984.20Z" fill="none" stroke="#161616" stroke-width="1.3"/>
<path d="M214.10 979.90H217.90L216.00 984.20Z" fill="none" stroke="#161616" stroke-width="1.3"/>
<line x1="170.80" y1="949.60" x2="233.00" y2="949.60" stroke="#161616" stroke-width="1.4"/>
<text transform="translate(400.78 815.35) scale(0.9890 1)" font-size="22.15" fill="#000">MICA</text>
<text transform="translate(479.49 859.63) scale(1.0230 1)" font-size="21.35" letter-spacing="2.15" fill="#000">**</text>
<line x1="353.00" y1="862.00" x2="501.80" y2="862.00" stroke="#161616" stroke-width="1.45"/>
<line x1="342.60" y1="860.00" x2="342.60" y2="983.40" stroke="#161616" stroke-width="1.45"/>
<line x1="340.20" y1="982.80" x2="514.30" y2="982.80" stroke="#161616" stroke-width="1.45"/>
<line x1="340.00" y1="878.80" x2="342.60" y2="878.80" stroke="#161616" stroke-width="1.45"/>
<line x1="340.00" y1="931.30" x2="342.60" y2="931.30" stroke="#161616" stroke-width="1.45"/>
<text transform="translate(312.34 885.65) scale(1.0366 1)" font-size="17.05" fill="#000">1.0</text>
<text transform="translate(313.43 937.75) scale(1.0600 1)" font-size="17.05" fill="#111">0.5</text>
<line x1="371.80" y1="982.80" x2="371.80" y2="986.00" stroke="#161616" stroke-width="1.1"/>
<line x1="430.00" y1="982.80" x2="430.00" y2="986.00" stroke="#161616" stroke-width="1.1"/>
<line x1="488.00" y1="982.80" x2="488.00" y2="986.00" stroke="#161616" stroke-width="1.1"/>
<text transform="translate(302.55 941.27) rotate(-90) scale(0.9954 1)" font-size="18.15" fill="#000">ng/ml</text>
<line x1="371.65" y1="919.50" x2="371.65" y2="925.80" stroke="#222" stroke-width="1.3"/>
<line x1="362.00" y1="919.50" x2="381.30" y2="919.50" stroke="#222" stroke-width="1.4"/>
<rect x="351.80" y="925.80" width="39.50" height="57.00" fill="#8d8d8d" stroke="#262626" stroke-width="1.3"/>
<line x1="430.00" y1="870.00" x2="430.00" y2="887.00" stroke="#222" stroke-width="1.3"/>
<line x1="420.50" y1="870.00" x2="439.50" y2="870.00" stroke="#222" stroke-width="1.4"/>
<rect x="410.50" y="887.00" width="38.80" height="95.80" fill="#8d8d8d" stroke="#262626" stroke-width="1.3"/>
<line x1="488.40" y1="883.00" x2="488.40" y2="895.00" stroke="#222" stroke-width="1.3"/>
<line x1="478.80" y1="883.00" x2="498.00" y2="883.00" stroke="#222" stroke-width="1.4"/>
<rect x="469.30" y="895.00" width="38.20" height="87.80" fill="#8d8d8d" stroke="#262626" stroke-width="1.3"/>
<text transform="translate(282.32 1007.35) scale(0.9614 1)" font-size="22.05" fill="#000">Binet</text>
<text transform="translate(365.44 1007.35) scale(1.0221 1)" font-size="22.05" fill="#000">A</text>
<text transform="translate(422.51 1007.55) scale(1.0409 1)" font-size="22.05" fill="#000">B</text>
<text transform="translate(481.28 1007.65) scale(1.0455 1)" font-size="22.05" fill="#000">C</text>
<text transform="translate(352.03 1026.65) scale(1.0562 1)" font-size="17.05" fill="#000">n=48</text>
<text transform="translate(413.31 1026.85) scale(1.0719 1)" font-size="17.05" fill="#000">n=19</text>
<text transform="translate(468.99 1026.85) scale(1.0879 1)" font-size="17.05" fill="#000">n=19</text>
</svg>
</body></html>
